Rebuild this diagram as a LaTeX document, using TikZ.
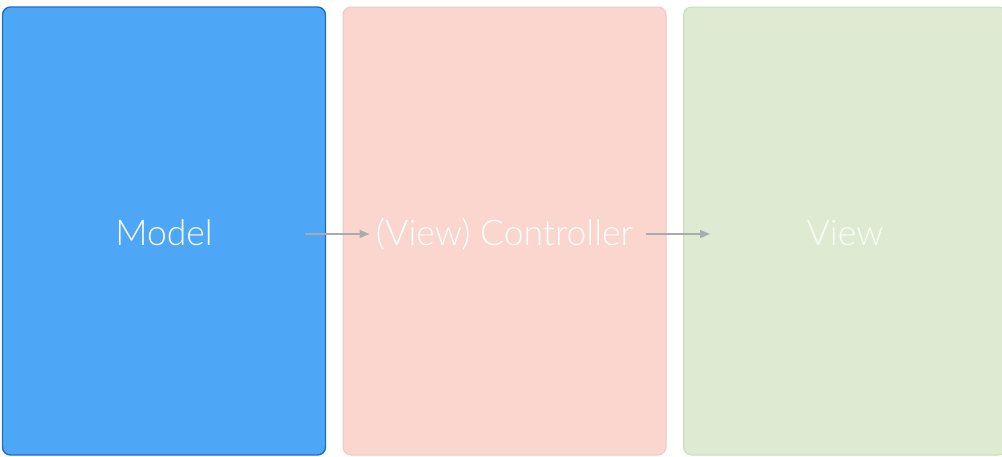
\documentclass[tikz,border=0pt]{standalone}
\usepackage{fontspec}
\setmainfont{Lato}[UprightFont=* Light]
\usetikzlibrary{arrows.meta}
\definecolor{modelfill}{RGB}{77,167,246}
\definecolor{modeldraw}{RGB}{30,110,200}
\definecolor{ctrlfill}{RGB}{250,214,207}
\definecolor{ctrldraw}{RGB}{244,198,191}
\definecolor{viewfill}{RGB}{222,234,209}
\definecolor{viewdraw}{RGB}{200,222,190}
\definecolor{flowgray}{RGB}{168,172,172}
\tikzset{
  layer/.style={rectangle, rounded corners=8pt, minimum width=323pt, minimum height=448pt, inner sep=0pt, text height=34pt, text depth=6pt, font=\fontsize{35.5}{42}\selectfont, text=white},
  flow/.style={color=flowgray, line width=1.3pt, -{Triangle[length=10pt,width=8pt]}}
}

\begin{document}
\begin{tikzpicture}[x=1pt,y=1pt,yscale=-1,xscale=1]
\useasboundingbox (0,0) rectangle (1002,456);

% Model
\node [layer, fill=modelfill, draw=modeldraw, line width=1.4pt] (model) at (164,231) {Model};
% (View) Controller
\node [layer, fill=ctrlfill, draw=ctrldraw, line width=1pt] (ctrl) at (504.5,231) {(View) Controller};
% View
\node [layer, fill=viewfill, draw=viewdraw, line width=1pt, text=white!85!viewfill] (view) at (845,231) {View};

% Arrows
\draw [flow] ([xshift=-21pt,yshift=3pt]model.east) -- ([xshift=27pt,yshift=3pt]ctrl.west);
\draw [flow] ([xshift=-21pt,yshift=3pt]ctrl.east) -- ([xshift=27pt,yshift=3pt]view.west);

\end{tikzpicture}
\end{document}
